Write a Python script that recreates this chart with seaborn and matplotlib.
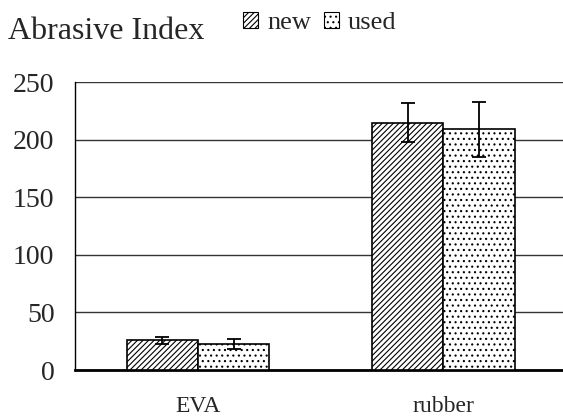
import matplotlib
matplotlib.use("Agg")
import matplotlib.pyplot as plt
from matplotlib.patches import Patch
import numpy as np
import pandas as pd
import seaborn as sns

categories = ["EVA", "rubber"]
conditions = ["new", "used"]
new_mean = [25.8, 215.0]
new_err = [3.2, 17.0]
used_mean = [22.8, 209.0]
used_err = [4.3, 24.0]
y_ticks = [0, 50, 100, 150, 200, 250]

df = pd.DataFrame({
    "material": categories * 2,
    "condition": ["new"] * 2 + ["used"] * 2,
    "index": new_mean + used_mean,
    "err": new_err + used_err,
})

sns.set_theme(style="white")
plt.rcParams["font.family"] = ["Liberation Serif", "DejaVu Serif"]
plt.rcParams["hatch.linewidth"] = 0.8

fig = plt.figure(figsize=(5.63, 4.17), dpi=100)
ax = fig.add_axes([0.1337, 0.1127, 0.8663, 0.6899])

sns.barplot(
    data=df, x="material", y="index", hue="condition", order=categories,
    hue_order=conditions, palette=["white", "white"], width=0.58,
    edgecolor="black", linewidth=1.2, errorbar=None, legend=False, ax=ax,
    zorder=3,
)

hatches = {"new": "//////", "used": "..."}
for container, cond in zip(ax.containers, conditions):
    sub = df[df["condition"] == cond].set_index("material").loc[categories]
    xs = []
    for bar in container:
        bar.set_hatch(hatches[cond])
        xs.append(bar.get_x() + bar.get_width() / 2)
    ax.errorbar(xs, sub["index"], yerr=sub["err"], fmt="none", ecolor="black",
                elinewidth=1.3, capsize=4.7, capthick=1.3, zorder=4)

ax.set_ylim(0, 250)
ax.set_xlim(-0.5, 1.487)
ax.set_yticks(y_ticks)
ax.set_yticklabels([str(t) for t in y_ticks], fontsize=20)
ax.yaxis.grid(True, color="#333333", linewidth=1.0, zorder=0)
ax.set_axisbelow(True)
ax.tick_params(axis="y", length=0, pad=15)
ax.tick_params(axis="x", which="major", length=0, labelsize=17, pad=19)
ax.set_xticks([0.5], minor=True)
ax.tick_params(axis="x", which="minor", direction="in", length=6, width=0.8, color="black")
ax.set_xlabel("")
ax.set_ylabel("")

for side in ["top", "right"]:
    ax.spines[side].set_visible(False)
ax.spines["left"].set_color("black")
ax.spines["left"].set_linewidth(1.0)
ax.spines["bottom"].set_color("black")
ax.spines["bottom"].set_linewidth(2.0)

fig.text(0.014, 0.9065, "Abrasive Index", fontsize=23, ha="left", va="baseline")

handles = [Patch(facecolor="white", edgecolor="black", hatch=hatches[c], linewidth=0.8)
           for c in conditions]
fig.legend(handles, conditions, loc="upper left", bbox_to_anchor=(0.404, 1.01),
           ncol=2, frameon=False, fontsize=19, handlelength=0.57, handleheight=0.57,
           handletextpad=0.36, columnspacing=0.45, borderpad=0.1)

fig.savefig("out.png", dpi=100)
